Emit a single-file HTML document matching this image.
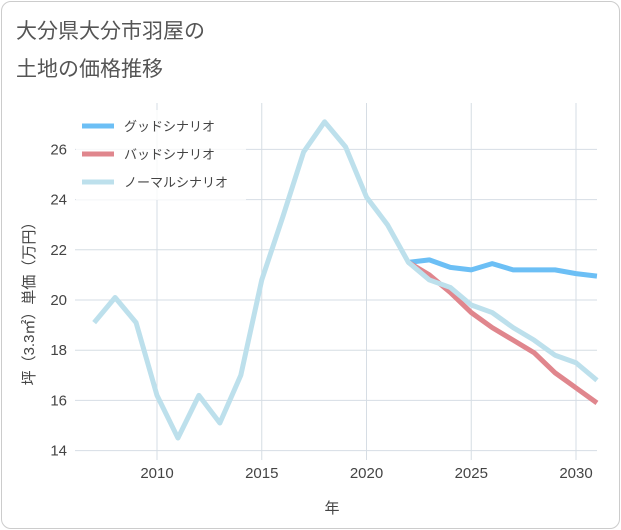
<!DOCTYPE html>
<html><head><meta charset="utf-8"><style>
body{margin:0;background:#fff;font-family:"Liberation Sans","Noto Sans CJK JP",sans-serif}
#card{position:absolute;left:1px;top:1px;width:617px;height:526px;border:1px solid #ccc;border-radius:10px;background:#fff}
svg{position:absolute;left:0;top:0}
</style></head><body>
<div id="card"></div>
<svg id="chart" width="621" height="530">
<text x="16" y="38" font-size="21" fill="#555" font-family="Liberation Sans,Noto Sans CJK JP,sans-serif">大分県大分市羽屋の</text>
<text x="16" y="76" font-size="21" fill="#555" font-family="Liberation Sans,Noto Sans CJK JP,sans-serif">土地の価格推移</text>
<g id="grid"></g><g id="series"></g><g id="axes"></g>
<text x="332" y="513" font-size="15" fill="#444" text-anchor="middle" font-family="Liberation Sans,Noto Sans CJK JP,sans-serif">年</text>
<text transform="translate(34,300) rotate(-90)" font-size="15" fill="#444" text-anchor="middle" font-family="Liberation Sans,Noto Sans CJK JP,sans-serif">坪（3.3㎡）単価（万円）</text>
<g id="legend"></g>
</svg>
<script>
const years=[2007,2008,2009,2010,2011,2012,2013,2014,2015,2016,2017,2018,2019,2020,2021,2022,2023,2024,2025,2026,2027,2028,2029,2030,2031];
const normalValues=[19.1,20.1,19.1,16.2,14.5,16.2,15.1,17.0,20.8,23.3,25.9,27.1,26.1,24.1,23.0,21.5,20.8,20.5,19.8,19.5,18.9,18.4,17.8,17.5,16.8];
const forecastYears=[2022,2023,2024,2025,2026,2027,2028,2029,2030,2031];
const goodValues=[21.5,21.6,21.3,21.2,21.45,21.2,21.2,21.2,21.05,20.95];
const badValues=[21.5,21.0,20.3,19.5,18.9,18.4,17.9,17.1,16.5,15.9];
const xTicks=[2010,2015,2020,2025,2030];
const yTicks=[14,16,18,20,22,24,26];
const legendLabels=["グッドシナリオ","バッドシナリオ","ノーマルシナリオ"];
const NS="http://www.w3.org/2000/svg";
const L=75,R=597,T=103,B=460;
const x=v=>157+(v-2010)*20.95;
const y=v=>300-(v-20)*25.1;
function mk(tag,attrs,parent){const e=document.createElementNS(NS,tag);for(const k in attrs)e.setAttribute(k,attrs[k]);parent.appendChild(e);return e;}
const grid=document.getElementById('grid'),axes=document.getElementById('axes'),ser=document.getElementById('series'),leg=document.getElementById('legend');
for(const t of xTicks){
 const l=mk('line',{x1:x(t),x2:x(t),y1:T,y2:B,stroke:'#d6dde4','stroke-width':1},grid);
 
 
 const tx=mk('text',{x:x(t),y:478,'font-size':15,fill:'#444','text-anchor':'middle'},axes);
 tx.textContent=t;
 
 
}
for(const t of yTicks){
 const l=mk('line',{x1:L,x2:R,y1:y(t),y2:y(t),stroke:'#d6dde4','stroke-width':1},grid);
 
 
 const tx=mk('text',{x:67,y:y(t)+5,'font-size':15,fill:'#444','text-anchor':'end'},axes);
 tx.textContent=t;
 
 
}
function line(xs,vs,color,name){
 const p=mk('polyline',{points:xs.map((v,i)=>x(v)+','+y(vs[i])).join(' '),fill:'none',stroke:color,'stroke-width':5,'stroke-linejoin':'round'},ser);
 
 
}
line(forecastYears,goodValues,'#6cbff5','good-scenario-line');
line(forecastYears,badValues,'#e0868d','bad-scenario-line');
line(years,normalValues,'#bde0ec','normal-scenario-line');
const lc=['#6cbff5','#e0868d','#bde0ec'];
mk('rect',{x:76,y:110,width:170,height:90,fill:'#fff','fill-opacity':0.8},leg);
legendLabels.forEach((s,i)=>{
 const yy=126+i*28;
 const l=mk('line',{x1:82,x2:114,y1:yy,y2:yy,stroke:lc[i],'stroke-width':5},leg);
 
 
 const t=mk('text',{x:124,y:yy+5,'font-size':13,fill:'#444'},leg);
 t.textContent=s;
 
 
});
</script>
</body></html>
